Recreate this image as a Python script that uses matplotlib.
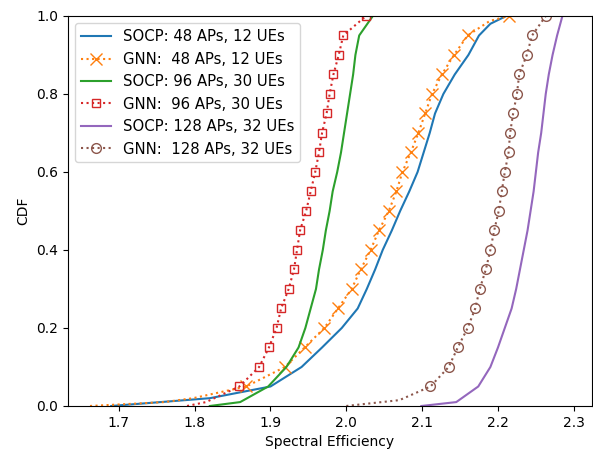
import numpy as np
import matplotlib
matplotlib.use("Agg")
import matplotlib.pyplot as plt

# CDF levels (x = spectral efficiency at each level)
socp48_cdf = [0.0, 0.02, 0.05, 0.10, 0.15, 0.20, 0.25, 0.30, 0.35, 0.40, 0.45, 0.50,
              0.55, 0.60, 0.65, 0.70, 0.75, 0.80, 0.85, 0.90, 0.95, 0.98, 1.0]
socp48_x = [1.69, 1.82, 1.90, 1.941, 1.968, 1.994, 2.015, 2.027, 2.038, 2.048, 2.060, 2.071,
            2.083, 2.094, 2.102, 2.110, 2.117, 2.128, 2.143, 2.161, 2.175, 2.190, 2.211]

gnn48_cdf = [0.0, 0.01, 0.02, 0.05, 0.10, 0.15, 0.20, 0.25, 0.30, 0.35, 0.40, 0.45, 0.50,
             0.55, 0.60, 0.65, 0.70, 0.75, 0.80, 0.85, 0.90, 0.95, 0.987, 1.0]
gnn48_x = [1.662, 1.76, 1.798, 1.868, 1.919, 1.945, 1.971, 1.989, 2.007, 2.019, 2.032, 2.043, 2.056,
           2.066, 2.074, 2.085, 2.095, 2.104, 2.113, 2.126, 2.142, 2.160, 2.189, 2.214]

socp96_cdf = [0.0, 0.01, 0.05, 0.10, 0.15, 0.20, 0.25, 0.30, 0.35, 0.40, 0.45, 0.50,
              0.55, 0.60, 0.65, 0.70, 0.75, 0.80, 0.85, 0.90, 0.95, 1.0]
socp96_x = [1.82, 1.86, 1.897, 1.921, 1.937, 1.946, 1.953, 1.960, 1.964, 1.969, 1.973, 1.978,
            1.982, 1.988, 1.993, 1.997, 2.001, 2.005, 2.009, 2.012, 2.017, 2.035]

gnn96_cdf = [0.0, 0.01, 0.03, 0.05, 0.10, 0.15, 0.20, 0.25, 0.30, 0.35, 0.40, 0.45, 0.50,
             0.55, 0.60, 0.65, 0.70, 0.75, 0.80, 0.85, 0.90, 0.95, 1.0]
gnn96_x = [1.79, 1.815, 1.837, 1.859, 1.885, 1.898, 1.908, 1.914, 1.924, 1.931, 1.935, 1.939, 1.947,
           1.953, 1.959, 1.964, 1.968, 1.974, 1.978, 1.983, 1.990, 1.996, 2.026]

socp128_cdf = [0.0, 0.01, 0.05, 0.10, 0.15, 0.20, 0.25, 0.30, 0.35, 0.40, 0.45, 0.50,
               0.55, 0.60, 0.65, 0.70, 0.75, 0.80, 0.85, 0.90, 0.95, 1.0]
socp128_x = [2.099, 2.145, 2.174, 2.190, 2.200, 2.209, 2.218, 2.224, 2.229, 2.234, 2.239, 2.243,
             2.247, 2.250, 2.253, 2.257, 2.260, 2.263, 2.267, 2.272, 2.278, 2.285]

gnn128_cdf = [0.0, 0.015, 0.05, 0.10, 0.15, 0.20, 0.25, 0.30, 0.35, 0.40, 0.45, 0.50,
              0.55, 0.60, 0.65, 0.70, 0.75, 0.80, 0.85, 0.90, 0.95, 1.0]
gnn128_x = [2.0, 2.07, 2.111, 2.135, 2.147, 2.160, 2.170, 2.176, 2.184, 2.190, 2.195, 2.201,
            2.205, 2.209, 2.214, 2.216, 2.220, 2.225, 2.228, 2.238, 2.245, 2.263]


def marker_mask(cdf):
    # markers only at every 0.05 step of the CDF
    c = np.asarray(cdf) * 20
    return list(np.isclose(c, np.round(c)) & (c > 0))


fig = plt.figure(figsize=(5.93, 4.5), dpi=100)
ax = fig.add_axes([0.1147, 0.0978, 0.8836, 0.8667])

ax.plot(socp48_x, socp48_cdf, '-', color='C0', label='SOCP: 48 APs, 12 UEs')
ax.plot(gnn48_x, gnn48_cdf, ':', color='C1', marker='x', markersize=9,
        markevery=marker_mask(gnn48_cdf), label='GNN:  48 APs, 12 UEs')
ax.plot(socp96_x, socp96_cdf, '-', color='C2', label='SOCP: 96 APs, 30 UEs')
ax.plot(gnn96_x, gnn96_cdf, ':', color='C3', marker='s', markersize=6, fillstyle='none',
        markevery=marker_mask(gnn96_cdf), label='GNN:  96 APs, 30 UEs')
ax.plot(socp128_x, socp128_cdf, '-', color='C4', label='SOCP: 128 APs, 32 UEs')
ax.plot(gnn128_x, gnn128_cdf, ':', color='C5', marker='o', markersize=7, fillstyle='none',
        markevery=marker_mask(gnn128_cdf), label='GNN:  128 APs, 32 UEs')

ax.set_xlim(1.633, 2.324)
ax.set_ylim(0, 1)
ax.set_xticks([1.7, 1.8, 1.9, 2.0, 2.1, 2.2, 2.3])
ax.set_xlabel('Spectral Efficiency')
ax.set_ylabel('CDF')
ax.legend(loc='upper left', fontsize=10.7)

fig.savefig('out.png', dpi=100)
